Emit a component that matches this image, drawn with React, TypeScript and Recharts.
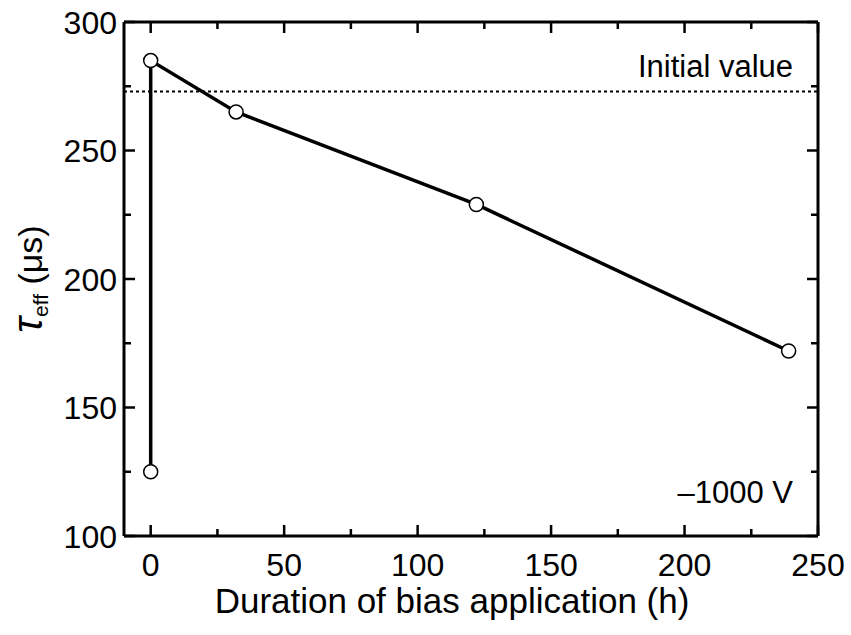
import React from 'react';
import {
  LineChart,
  Line,
  XAxis,
  YAxis,
  ReferenceLine,
  Customized,
} from 'recharts';

// duration of bias application (h) and tau_eff (us)
const durations = [0, 0, 32, 122, 239];
const tauValues = [125, 285, 265, 229, 172];
const initialValue = 273;

const xTicks = [0, 25, 50, 75, 100, 125, 150, 175, 200, 225, 250];
const yTicks = [100, 125, 150, 175, 200, 225, 250, 275, 300];

const data = durations.map((x, i) => ({ x, tau: tauValues[i] }));

const FONT = '"Liberation Sans", Arial, Helvetica, sans-serif';
const MAJOR = 11;
const MINOR = 7;
const AXIS = { stroke: '#000', strokeWidth: 3 };

function BottomTick(props: any) {
  const { x, y, payload } = props;
  const major = payload.value % 50 === 0;
  return (
    <g>
      <line x1={x} x2={x} y1={y} y2={y - (major ? MAJOR : MINOR)} stroke="#000" strokeWidth={2.5} />
      {major && (
        <text x={x} y={y + 40} textAnchor="middle" fontSize={32} fontFamily={FONT} fill="#000">
          {payload.value}
        </text>
      )}
    </g>
  );
}

function TopTick(props: any) {
  const { x, y, payload } = props;
  const major = payload.value % 50 === 0;
  return <line x1={x} x2={x} y1={y} y2={y + (major ? MAJOR : MINOR)} stroke="#000" strokeWidth={2.5} />;
}

function LeftTick(props: any) {
  const { x, y, payload } = props;
  const major = payload.value % 50 === 0;
  return (
    <g>
      <line x1={x} x2={x + (major ? MAJOR : MINOR)} y1={y} y2={y} stroke="#000" strokeWidth={2.5} />
      {major && (
        <text x={x - 7} y={y} dy="0.36em" textAnchor="end" fontSize={32} fontFamily={FONT} fill="#000">
          {payload.value}
        </text>
      )}
    </g>
  );
}

function RightTick(props: any) {
  const { x, y, payload } = props;
  const major = payload.value % 50 === 0;
  return <line x1={x} x2={x - (major ? MAJOR : MINOR)} y1={y} y2={y} stroke="#000" strokeWidth={2.5} />;
}

export default function App() {
  return (
    <div style={{ position: 'absolute', left: 0, top: 0 }}>
      <LineChart
        width={851}
        height={635}
        data={data}
        margin={{ top: 21, right: 32, bottom: 0, left: 0 }}
      >
        <XAxis
          dataKey="x"
          type="number"
          domain={[-10, 250]}
          ticks={xTicks}
          interval={0}
          allowDataOverflow
          height={99}
          tickSize={0}
          tickMargin={0}
          tickLine={false}
          tick={BottomTick}
          axisLine={AXIS}
          label={{
            content: () => (
              <text x={452} y={613} textAnchor="middle" fontSize={35} fontFamily={FONT} fill="#000">
                Duration of bias application (h)
              </text>
            ),
          }}
        />
        <XAxis
          xAxisId="top"
          orientation="top"
          dataKey="x"
          type="number"
          domain={[-10, 250]}
          ticks={xTicks}
          interval={0}
          allowDataOverflow
          height={1}
          tickSize={0}
          tickMargin={0}
          tickLine={false}
          tick={TopTick}
          axisLine={AXIS}
        />
        <YAxis
          type="number"
          domain={[100, 300]}
          ticks={yTicks}
          interval={0}
          allowDataOverflow
          width={124}
          tickSize={0}
          tickMargin={0}
          tickLine={false}
          tick={LeftTick}
          axisLine={AXIS}
          label={{
            content: () => (
              <text
                x={42}
                y={279}
                textAnchor="middle"
                transform="rotate(-90, 42, 279)"
                fontFamily={FONT}
                fill="#000"
              >
                <tspan fontSize={42} fontStyle="italic">τ</tspan>
                <tspan fontSize={21} dy={6}>eff</tspan>
                <tspan fontSize={34} dy={-6}> (μs)</tspan>
              </text>
            ),
          }}
        />
        <YAxis
          yAxisId="right"
          orientation="right"
          type="number"
          domain={[100, 300]}
          ticks={yTicks}
          interval={0}
          allowDataOverflow
          width={1}
          tickSize={0}
          tickMargin={0}
          tickLine={false}
          tick={RightTick}
          axisLine={AXIS}
        />
        <ReferenceLine
          y={initialValue}
          stroke="#000"
          strokeWidth={2}
          strokeDasharray="3 3"
          label={{
            content: (p: any) => {
              const vb = p.viewBox || {};
              return (
                <text
                  x={(vb.x ?? 124) + (vb.width ?? 694) - 25}
                  y={(vb.y ?? 91) - 14}
                  textAnchor="end"
                  fontSize={31}
                  fontFamily={FONT}
                  fill="#000"
                >
                  Initial value
                </text>
              );
            },
          }}
        />
        <Line
          type="linear"
          dataKey="tau"
          stroke="#000"
          strokeWidth={3.5}
          dot={{ r: 7, fill: '#fff', stroke: '#000', strokeWidth: 1.5 }}
          activeDot={false}
          isAnimationActive={false}
        />
        <Customized
          component={() => (
            <text x={793} y={503} textAnchor="end" fontSize={31} fontFamily={FONT} fill="#000">
              –1000 V
            </text>
          )}
        />
      </LineChart>
    </div>
  );
}
